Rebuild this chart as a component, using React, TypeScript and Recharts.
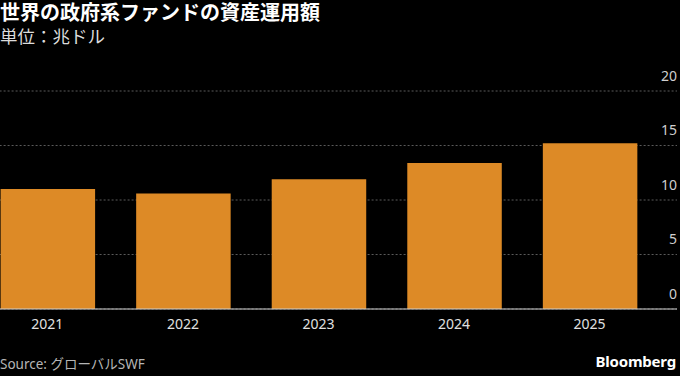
import React from "react";
import { BarChart, Bar, XAxis, YAxis, CartesianGrid, ReferenceLine } from "recharts";

const years = ["2021", "2022", "2023", "2024", "2025"];
const assets = [11.0, 10.6, 11.9, 13.4, 15.2];
const yTicks = [0, 5, 10, 15, 20];

const title = "世界の政府系ファンドの資産運用額";
const subtitle = "単位：兆ドル";
const source = "Source: グローバルSWF";
const brand = "Bloomberg";

const data = years.map((y, i) => ({ year: y, value: assets[i] }));

const FONT = "'Noto Sans', 'Noto Sans CJK JP', sans-serif";
const HEAD_FONT = "'Liberation Sans', 'Noto Sans CJK JP', sans-serif";

const renderYTick = (props: any) => {
  const { x, y, payload } = props;
  return (
    <text key={`yt-${payload.value}`} x={x} y={y - 16} textAnchor="end" dominantBaseline="central" fill="#cfcfcf" fontSize={14} fontFamily={FONT}>
      {payload.value}
    </text>
  );
};

const renderXTick = (props: any) => {
  const { x, y, payload } = props;
  return (
    <text key={`xt-${payload.value}`} x={x} y={y + 14} textAnchor="middle" dominantBaseline="central" fill="#e0e0e0" fontSize={14} fontFamily={FONT}>
      {payload.value}
    </text>
  );
};

export default function App() {
  return (
    <div style={{ position: "absolute", left: 0, top: 0, width: 680, height: 376, background: "#000", overflow: "hidden", fontFamily: FONT }}>
      <div style={{ position: "absolute", left: 0, top: 3, lineHeight: "20px", color: "#fff", fontSize: 20, fontWeight: 700, whiteSpace: "nowrap", fontFamily: HEAD_FONT }}>
        {title}
      </div>
      <div style={{ position: "absolute", left: 0, top: 27.5, lineHeight: "18px", color: "#dcdcdc", fontSize: 17.5, whiteSpace: "nowrap", fontFamily: HEAD_FONT }}>
        {subtitle}
      </div>
      <div style={{ position: "absolute", left: 0, top: 0 }}>
        <BarChart width={680} height={376} data={data} margin={{ top: 91, right: 2, bottom: 37, left: -20.4 }}>
          <CartesianGrid horizontal vertical={false} stroke="#5a5a5a" strokeDasharray="2 2" />
          <XAxis dataKey="year" axisLine={false} tickLine={false} tickSize={0} tickMargin={0} height={30} padding={{ left: 0, right: 19.6 }} tick={renderXTick} interval={0} />
          <YAxis orientation="right" width={1} domain={[0, 20]} ticks={yTicks} axisLine={false} tickLine={false} tickSize={0} tickMargin={0} tick={renderYTick} interval={0} />
          <Bar dataKey="value" fill="#DD8A26" barSize={94.5} isAnimationActive={false} />
          <ReferenceLine y={0} stroke="#d0d0d0" strokeWidth={1.2} />
        </BarChart>
      </div>
      <div style={{ position: "absolute", left: 0, top: 355, lineHeight: "18px", color: "#b5b5b5", fontSize: 13.5, whiteSpace: "nowrap", fontFamily: "'Noto Sans', 'Noto Sans CJK JP', sans-serif" }}>
        {source}
      </div>
      <div style={{ position: "absolute", right: 4, top: 351, color: "#fff", fontSize: 15, fontWeight: 700, whiteSpace: "nowrap", letterSpacing: -0.2, fontFamily: "'Noto Sans', sans-serif" }}>
        {brand}
      </div>
    </div>
  );
}
